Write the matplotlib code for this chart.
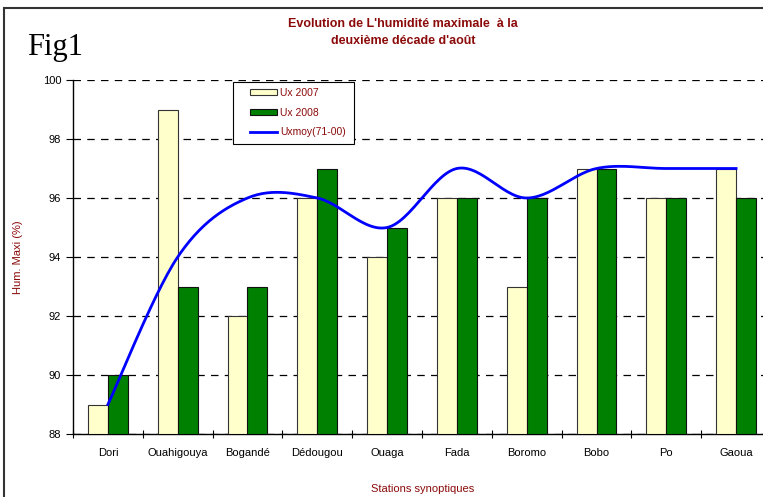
import numpy as np
import matplotlib.pyplot as plt
from matplotlib.patches import Rectangle

# stations et valeurs
stations = ["Dori", "Ouahigouya", "Bogandé", "Dédougou", "Ouaga",
            "Fada", "Boromo", "Bobo", "Po", "Gaoua"]
ux_2007 = [89, 99, 92, 96, 94, 96, 93, 97, 96, 97]
ux_2008 = [90, 93, 93, 97, 95, 96, 96, 97, 96, 96]
ux_moy = [89, 94, 96.0, 96, 95, 97, 96, 97, 97, 97]

rouge = "#8B0A0A"
plt.rcParams['font.family'] = ['Liberation Sans', 'DejaVu Sans']


def lissage(x, y, n=30):
    """courbe lissée type Excel (Catmull-Rom)"""
    x = np.asarray(x, float)
    y = np.asarray(y, float)
    xs, ys = [], []
    for i in range(len(x) - 1):
        i0 = max(i - 1, 0)
        i3 = min(i + 2, len(x) - 1)
        p0 = np.array([x[i], y[i]])
        p3 = np.array([x[i + 1], y[i + 1]])
        c1 = p0 + (np.array([x[i + 1], y[i + 1]]) - np.array([x[i0], y[i0]])) / 6
        c2 = p3 - (np.array([x[i3], y[i3]]) - np.array([x[i], y[i]])) / 6
        t = np.linspace(0, 1, n)[:, None]
        pts = ((1 - t) ** 3 * p0 + 3 * (1 - t) ** 2 * t * c1
               + 3 * (1 - t) * t ** 2 * c2 + t ** 3 * p3)
        xs.extend(pts[:, 0])
        ys.extend(pts[:, 1])
    return xs, ys


fig = plt.figure(figsize=(7.63, 4.97), dpi=100)
ax = fig.add_axes([73 / 763, 63 / 497, 698 / 763, 354 / 497])
ax.set_axisbelow(True)

x = np.arange(len(stations))
w = 0.286
b1 = ax.bar(x - w / 2, [v - 88 for v in ux_2007], w, bottom=88, color="#FFFFCC",
            edgecolor="#333333", linewidth=0.8, label="Ux 2007", zorder=3)
b2 = ax.bar(x + w / 2, [v - 88 for v in ux_2008], w, bottom=88, color="#008000",
            edgecolor="#111111", linewidth=0.8, label="Ux 2008", zorder=3)
xs, ys = lissage(x, ux_moy)
l1, = ax.plot(xs, ys, color="#0000FF", linewidth=2, label="Uxmoy(71-00)", zorder=4)

ax.set_xlim(-0.5, len(stations) - 0.5)
ax.set_ylim(88, 100)
ax.set_yticks(range(88, 101, 2))
ax.yaxis.grid(True, linestyle=(0, (6, 5)), color="black", linewidth=0.9)
ax.set_xticks(x)
ax.set_xticklabels(stations, fontsize=8)
ax.set_xticks(np.arange(-0.5, len(stations)), minor=True)
ax.tick_params(axis='x', which='major', length=0, pad=10)
ax.tick_params(axis='x', which='minor', length=6, direction='inout', width=0.8)
ax.tick_params(axis='y', labelsize=8, length=5, direction='out', width=0.8)
for s in ["top", "right"]:
    ax.spines[s].set_visible(False)
ax.spines["left"].set_linewidth(1)
ax.spines["bottom"].set_linewidth(1)

ax.set_ylabel("Hum. Maxi (%)", fontsize=8, color=rouge, labelpad=14)
ax.set_xlabel("Stations synoptiques", fontsize=8, color=rouge)
ax.xaxis.set_label_coords(350 / 698, -50 / 354)

# légende sans cadre + cadre dessiné à part
leg = ax.legend([b1, b2, l1], ["Ux 2007", "Ux 2008", "Uxmoy(71-00)"],
                loc="upper left", bbox_to_anchor=((247 - 73) / 698, (434 - 85) / 354),
                fontsize=7.5, frameon=False,
                handlelength=2.6, handleheight=0.5, labelspacing=0.9,
                borderpad=0.3, borderaxespad=0, handletextpad=0.3,
                labelcolor=rouge)
leg.set_zorder(6)
ax.add_patch(Rectangle(((233 - 73) / 698, (434 - 144) / 354), 121 / 698, 62 / 354,
                       transform=ax.transAxes, facecolor="white",
                       edgecolor="black", linewidth=0.8, zorder=5))

fig.text(0.528, 0.935, "Evolution de L'humidité maximale  à la\ndeuxième décade d'août",
         ha="center", va="center", fontsize=9, fontweight="bold", color=rouge,
         linespacing=1.5)
fig.text(27 / 763, 1 - 48 / 497, "Fig1", fontsize=22, family="Liberation Serif",
         ha="left", va="center")

# cadre de la figure
fig.patches.append(Rectangle((4 / 763, -0.1), 1.1, 1 - 8 / 497 + 0.1,
                             transform=fig.transFigure, fill=False,
                             edgecolor="#333333", linewidth=1.5))

fig.savefig("out.png", dpi=100)
